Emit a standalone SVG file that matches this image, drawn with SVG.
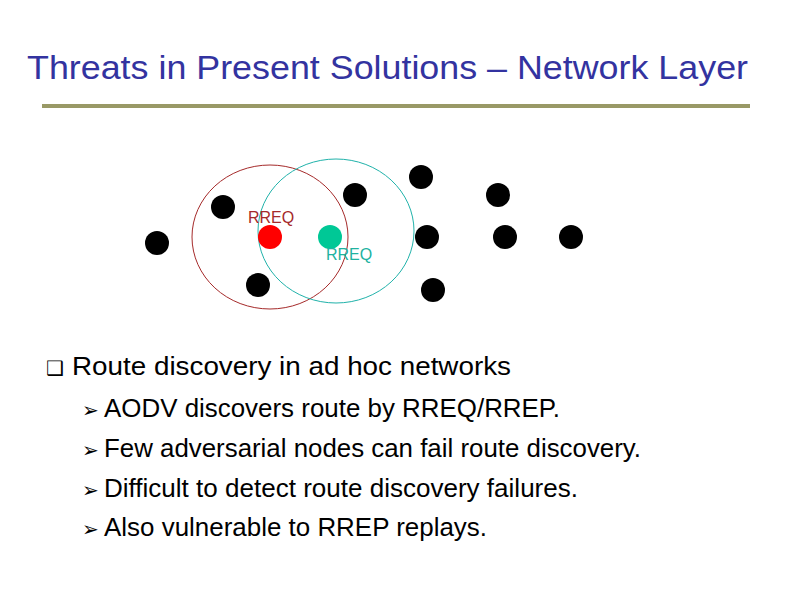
<svg xmlns="http://www.w3.org/2000/svg" width="794" height="595" viewBox="0 0 794 595">
<style>
text{font-family:"Liberation Sans",Arial,sans-serif}
.n{fill:#000}
.b{font-size:25px;fill:#000}
</style>
<rect width="794" height="595" fill="#fff"/>
<text x="27" y="79" font-size="33" fill="#3333a0" textLength="721" lengthAdjust="spacingAndGlyphs">Threats in Present Solutions – Network Layer</text>
<rect x="42" y="104" width="708" height="4" fill="#999966"/>
<g id="ranges" fill="none">
<ellipse cx="270" cy="237" rx="78" ry="72" stroke="#a52a2a"/>
<ellipse cx="336" cy="231" rx="78" ry="72" stroke="#20b2aa"/>
</g>
<g id="nodes">
<circle class="n" cx="157" cy="243" r="12"/>
<circle class="n" cx="223" cy="207" r="12"/>
<circle class="n" cx="355" cy="195" r="12"/>
<circle class="n" cx="421" cy="177" r="12"/>
<circle class="n" cx="498" cy="195" r="12"/>
<circle class="n" cx="427" cy="237" r="12"/>
<circle class="n" cx="505" cy="237" r="12"/>
<circle class="n" cx="571" cy="237" r="12"/>
<circle class="n" cx="433" cy="290" r="12"/>
<circle class="n" cx="258" cy="285" r="12"/>
<circle cx="270" cy="237" r="12" fill="#ff0000"/>
<circle cx="330" cy="237" r="12" fill="#00c896"/>
</g>
<text x="248" y="223" font-size="16" fill="#a52a2a">RREQ</text>
<text x="326" y="260" font-size="16" fill="#20b2a0">RREQ</text>
<text x="46" y="375" font-size="20" fill="#000">❑</text>
<text x="72" y="375" class="b" textLength="439" lengthAdjust="spacingAndGlyphs">Route discovery in ad hoc networks</text>
<g font-size="20" fill="#000">
<text x="82" y="417">➢</text><text x="82" y="457">➢</text><text x="82" y="497">➢</text><text x="82" y="536">➢</text>
</g>
<text x="104" y="417" class="b" font-size="23" textLength="456" lengthAdjust="spacingAndGlyphs">AODV discovers route by RREQ/RREP.</text>
<text x="104" y="457" class="b" font-size="23" textLength="537" lengthAdjust="spacingAndGlyphs">Few adversarial nodes can fail route discovery.</text>
<text x="104" y="497" class="b" font-size="23" textLength="474" lengthAdjust="spacingAndGlyphs">Difficult to detect route discovery failures.</text>
<text x="104" y="536" class="b" font-size="23" textLength="383" lengthAdjust="spacingAndGlyphs">Also vulnerable to RREP replays.</text>
</svg>
